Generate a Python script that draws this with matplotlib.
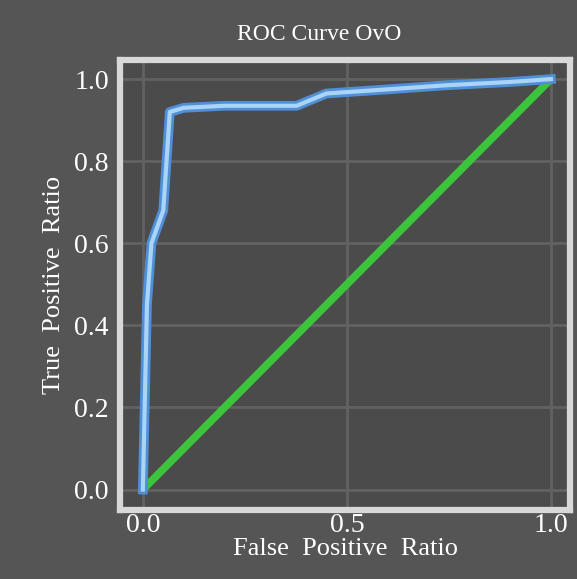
import matplotlib
matplotlib.use("Agg")
import matplotlib.pyplot as plt

# ROC curve
fpr = [0.0, 0.01, 0.021, 0.05, 0.066, 0.10, 0.20, 0.377, 0.45, 0.60, 0.744, 0.90, 1.0]
tpr = [0.0, 0.45, 0.60, 0.68, 0.92, 0.93, 0.935, 0.935, 0.965, 0.975, 0.985, 0.993, 1.0]
chance = [0.0, 1.0]

x_ticks = [0.0, 0.5, 1.0]
y_ticks = [0.0, 0.2, 0.4, 0.6, 0.8, 1.0]


def main():
    plt.rcParams['font.family'] = ['Liberation Serif', 'DejaVu Serif']
    fig = plt.figure(figsize=(5.77, 5.79), dpi=100)
    fig.patch.set_facecolor('#555555')
    ax = fig.add_axes([0.208, 0.119, 0.78, 0.777])
    ax.set_facecolor('#4b4b4b')

    ax.plot(chance, chance, color='#3cc43c', lw=5.5, solid_capstyle='round', zorder=3)
    ax.plot(fpr, tpr, color='#4f8fd8', lw=7, solid_joinstyle='round', zorder=4)
    ax.plot(fpr, tpr, color='#a9d4f5', lw=3, solid_joinstyle='round', zorder=5)

    ax.set_xlim(-0.056, 1.047)
    ax.set_ylim(-0.05, 1.046)
    ax.set_xticks(x_ticks)
    ax.set_yticks(y_ticks)
    ax.set_xticklabels(['%.1f' % t for t in x_ticks])
    ax.set_yticklabels(['%.1f' % t for t in y_ticks])
    ax.grid(True, color='#626262', lw=2)
    ax.set_axisbelow(True)
    ax.tick_params(colors='white', labelsize=20, length=0, pad=8)
    ax.tick_params(axis='x', pad=2)
    for s in ax.spines.values():
        s.set_color('#d8d8d8')
        s.set_linewidth(4.5)

    ax.set_xlabel("False  Positive  Ratio", color='white', fontsize=19, labelpad=0)
    ax.set_ylabel("True  Positive  Ratio", color='white', fontsize=19, labelpad=7)
    fig.text(0.553, 0.94, "ROC Curve OvO", color='white', fontsize=17,
             ha='center', va='center')

    fig.savefig('out.png', dpi=100, facecolor=fig.get_facecolor())


if __name__ == '__main__':
    main()
